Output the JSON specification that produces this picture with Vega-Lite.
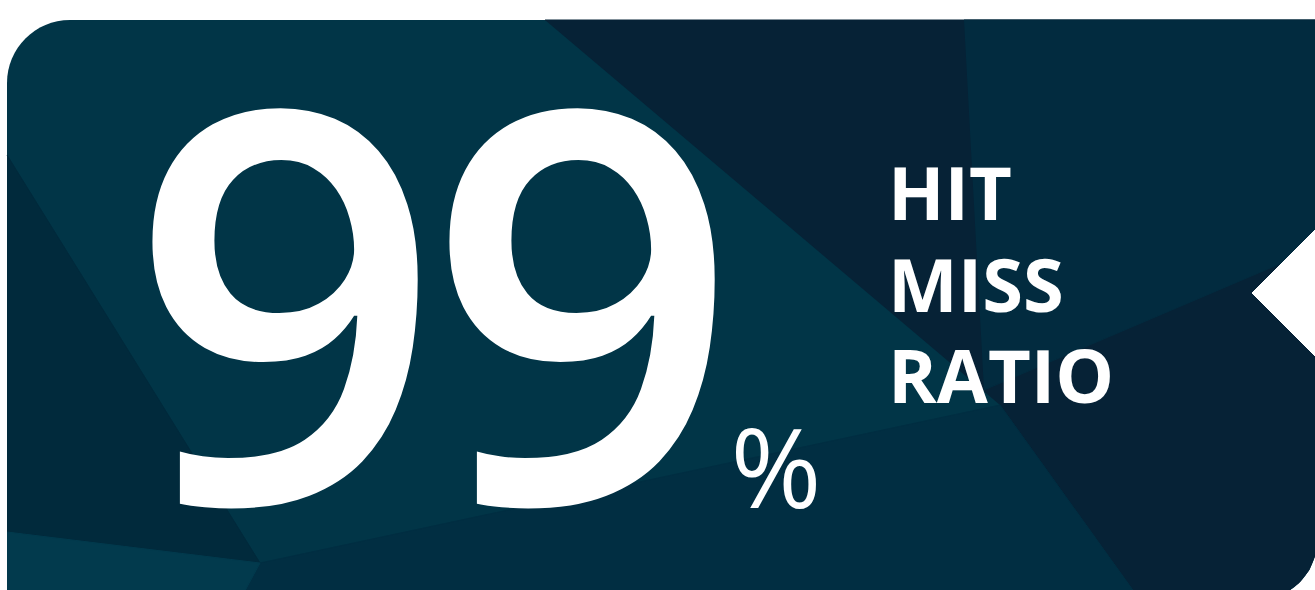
{
  "$schema": "https://vega.github.io/schema/vega-lite/v6.json",
  "width": 1315,
  "height": 590,
  "autosize": {"type": "none"},
  "padding": 0,
  "background": "#ffffff",
  "config": {"view": {"stroke": null}},
  "datasets": {
    "card": [{"x1": 7, "x2": 1317, "y1": 20, "y2": 600}],
    "shapes": [
      {"p": "a_D", "i": 0, "x": 545, "y": 20, "c": "#062236"},
      {"p": "a_D", "i": 1, "x": 1317, "y": 20, "c": "#062236"},
      {"p": "a_D", "i": 2, "x": 1317, "y": 540, "c": "#062236"},
      {"p": "a_D", "i": 3, "x": 1315, "y": 555.5, "c": "#062236"},
      {"p": "a_D", "i": 4, "x": 1309, "y": 570, "c": "#062236"},
      {"p": "a_D", "i": 5, "x": 1299.4, "y": 582.4, "c": "#062236"},
      {"p": "a_D", "i": 6, "x": 1287, "y": 592, "c": "#062236"},
      {"p": "a_D", "i": 7, "x": 1272.5, "y": 598, "c": "#062236"},
      {"p": "a_D", "i": 8, "x": 1257, "y": 600, "c": "#062236"},
      {"p": "a_D", "i": 9, "x": 1140, "y": 600, "c": "#062236"},
      {"p": "a_D", "i": 10, "x": 1000, "y": 405, "c": "#062236"},
      {"p": "b_R", "i": 0, "x": 964, "y": 20, "c": "#022b3f"},
      {"p": "b_R", "i": 1, "x": 1317, "y": 20, "c": "#022b3f"},
      {"p": "b_R", "i": 2, "x": 1317, "y": 248, "c": "#022b3f"},
      {"p": "b_R", "i": 3, "x": 984, "y": 390, "c": "#022b3f"},
      {"p": "c_M", "i": 0, "x": 260, "y": 563, "c": "#012e42"},
      {"p": "c_M", "i": 1, "x": 1000, "y": 405, "c": "#012e42"},
      {"p": "c_M", "i": 2, "x": 1140, "y": 600, "c": "#012e42"},
      {"p": "c_M", "i": 3, "x": 240, "y": 600, "c": "#012e42"},
      {"p": "d_L", "i": 0, "x": 7, "y": 155, "c": "#012a3c"},
      {"p": "d_L", "i": 1, "x": 97, "y": 300, "c": "#012a3c"},
      {"p": "d_L", "i": 2, "x": 260, "y": 563, "c": "#012a3c"},
      {"p": "d_L", "i": 3, "x": 7, "y": 532, "c": "#012a3c"},
      {"p": "e_B", "i": 0, "x": 7, "y": 532, "c": "#023a4d"},
      {"p": "e_B", "i": 1, "x": 260, "y": 563, "c": "#023a4d"},
      {"p": "e_B", "i": 2, "x": 240, "y": 600, "c": "#023a4d"},
      {"p": "e_B", "i": 3, "x": 7, "y": 600, "c": "#023a4d"},
      {"p": "f_N", "i": 0, "x": 1317, "y": 228, "c": "#ffffff"},
      {"p": "f_N", "i": 1, "x": 1252, "y": 293, "c": "#ffffff"},
      {"p": "f_N", "i": 2, "x": 1317, "y": 358, "c": "#ffffff"}
    ],
    "digits": [{"t": "9", "x": 286, "y": 503}, {"t": "9", "x": 583, "y": 503}],
    "pct": [{"t": "%", "x": 776, "y": 508}],
    "labels": [
      {"t": "HIT", "x": 888, "y": 220},
      {"t": "MISS", "x": 888, "y": 312},
      {"t": "RATIO", "x": 888, "y": 403}
    ]
  },
  "layer": [
    {
      "data": {"name": "card"},
      "mark": {"type": "rect", "color": "#013547", "cornerRadiusTopLeft": 63, "cornerRadiusBottomRight": 60, "clip": true},
      "encoding": {
        "x": {"field": "x1", "type": "quantitative", "scale": {"domain": [0, 1315], "nice": false, "zero": false}, "axis": null},
        "x2": {"field": "x2"},
        "y": {"field": "y1", "type": "quantitative", "scale": {"domain": [0, 590], "nice": false, "zero": false, "reverse": true}, "axis": null},
        "y2": {"field": "y2"}
      }
    },
    {
      "data": {"name": "shapes"},
      "mark": {"type": "line", "filled": true, "clip": true, "strokeWidth": 1},
      "encoding": {
        "x": {"field": "x", "type": "quantitative", "scale": {"domain": [0, 1315], "nice": false, "zero": false}, "axis": null},
        "y": {"field": "y", "type": "quantitative", "scale": {"domain": [0, 590], "nice": false, "zero": false, "reverse": true}, "axis": null},
        "detail": {"field": "p", "type": "nominal"},
        "order": {"field": "i", "type": "quantitative"},
        "color": {"field": "c", "type": "nominal", "scale": null, "legend": null},
        "stroke": {"field": "c", "type": "nominal", "scale": null, "legend": null}
      }
    },
    {
      "data": {"name": "digits"},
      "mark": {"type": "text", "font": "Open Sans", "fontSize": 546, "fontWeight": 600, "color": "#ffffff", "align": "center", "baseline": "alphabetic"},
      "encoding": {
        "x": {"field": "x", "type": "quantitative", "scale": {"domain": [0, 1315], "nice": false, "zero": false}, "axis": null},
        "y": {"field": "y", "type": "quantitative", "scale": {"domain": [0, 590], "nice": false, "zero": false, "reverse": true}, "axis": null},
        "text": {"field": "t"}
      }
    },
    {
      "data": {"name": "pct"},
      "mark": {"type": "text", "font": "Open Sans", "fontSize": 110, "fontWeight": 400, "color": "#ffffff", "align": "center", "baseline": "alphabetic"},
      "encoding": {
        "x": {"field": "x", "type": "quantitative", "scale": {"domain": [0, 1315], "nice": false, "zero": false}, "axis": null},
        "y": {"field": "y", "type": "quantitative", "scale": {"domain": [0, 590], "nice": false, "zero": false, "reverse": true}, "axis": null},
        "text": {"field": "t"}
      }
    },
    {
      "data": {"name": "labels"},
      "mark": {"type": "text", "font": "Open Sans", "fontSize": 74, "fontWeight": 700, "color": "#ffffff", "align": "left", "baseline": "alphabetic"},
      "encoding": {
        "x": {"field": "x", "type": "quantitative", "scale": {"domain": [0, 1315], "nice": false, "zero": false}, "axis": null},
        "y": {"field": "y", "type": "quantitative", "scale": {"domain": [0, 590], "nice": false, "zero": false, "reverse": true}, "axis": null},
        "text": {"field": "t"}
      }
    }
  ]
}
